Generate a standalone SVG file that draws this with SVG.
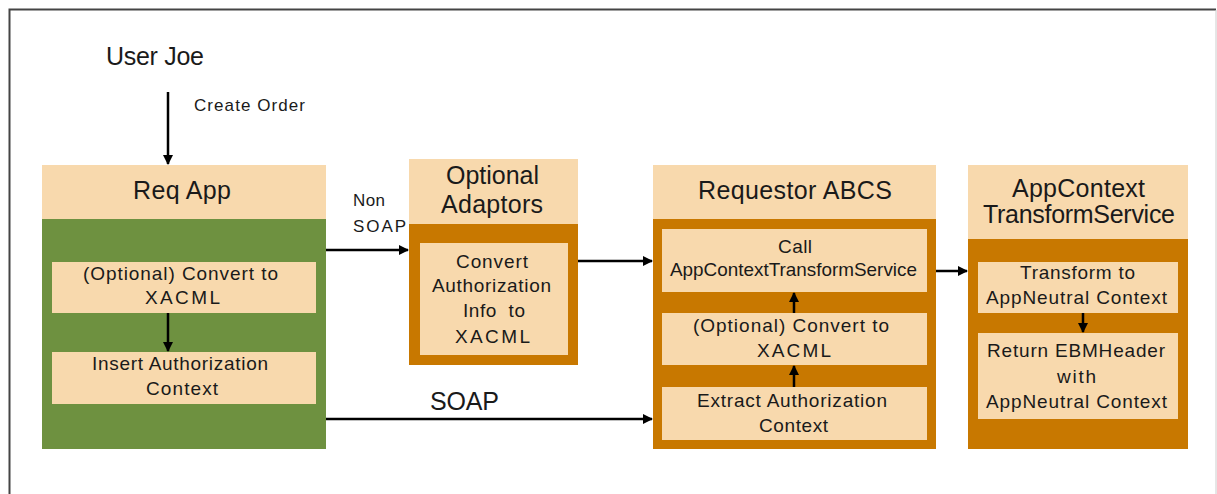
<svg xmlns="http://www.w3.org/2000/svg" width="1217" height="494" viewBox="0 0 1217 494">
<defs>
<style>
text{font-family:"Liberation Sans",Arial,sans-serif;fill:#1a1a1a;}
.hd{fill:#F8D9AD;}
.green{fill:#6E9140;}
.orange{fill:#C87800;}
.inner{fill:#F8D9AD;}
.t24{font-size:25px;}
.t18{font-size:19px;}
.t17{font-size:17px;}
.conn{stroke:#000;stroke-width:2.5;fill:none;marker-end:url(#ah);}
</style>
<marker id="ah" viewBox="0 0 10 10" refX="9" refY="5" markerWidth="4" markerHeight="4" orient="auto" markerUnits="strokeWidth">
<path d="M0,0 L10,5 L0,10 z" fill="#000"/>
</marker>
</defs>
<rect x="0" y="0" width="1217" height="494" fill="#fff"/>
<path d="M9.5,494 V9.5 H1216" stroke="#444" stroke-width="2" fill="none"/>
<line x1="1216" y1="10" x2="1216" y2="494" stroke="#ccc" stroke-width="1"/>

<g id="userjoe">
<text class="t24" x="106" y="65" textLength="98">User Joe</text>
</g>

<g id="reqapp">
<rect class="hd" x="42" y="165" width="284" height="54"/>
<text class="t24" x="133" y="199" textLength="98">Req App</text>
<rect class="green" x="42" y="219" width="284" height="230"/>
<rect class="inner" x="52" y="262" width="264" height="51"/>
<text class="t18" x="83" y="280" textLength="195">(Optional) Convert to</text>
<text class="t18" x="145" y="304" textLength="75">XACML</text>
<rect class="inner" x="52" y="352" width="264" height="52"/>
<text class="t18" x="92" y="370" textLength="176">Insert Authorization</text>
<text class="t18" x="146" y="395" textLength="72">Context</text>
</g>

<g id="adaptors">
<rect class="hd" x="409" y="159" width="169" height="65"/>
<text class="t24" x="446" y="184" textLength="93">Optional</text>
<text class="t24" x="441" y="213" textLength="102">Adaptors</text>
<rect class="orange" x="409" y="224" width="169" height="141"/>
<rect class="inner" x="420" y="243" width="148" height="112"/>
<text class="t18" x="456" y="268" textLength="72">Convert</text>
<text class="t18" x="432" y="292" textLength="119">Authorization</text>
<text class="t18" x="463" y="317" textLength="62" xml:space="preserve">Info  to</text>
<text class="t18" x="455" y="343" textLength="75">XACML</text>
</g>

<g id="abcs">
<rect class="hd" x="653" y="165" width="283" height="54"/>
<text class="t24" x="698" y="199" textLength="194">Requestor ABCS</text>
<rect class="orange" x="653" y="219" width="283" height="230"/>
<rect class="inner" x="662" y="229" width="265" height="63"/>
<text class="t18" x="778" y="253" textLength="34">Call</text>
<text class="t18" x="670" y="276" textLength="247" lengthAdjust="spacingAndGlyphs">AppContextTransformService</text>
<rect class="inner" x="662" y="313" width="265" height="52"/>
<text class="t18" x="693" y="332" textLength="196">(Optional) Convert to</text>
<text class="t18" x="757" y="357" textLength="74">XACML</text>
<rect class="inner" x="662" y="387" width="265" height="53"/>
<text class="t18" x="697" y="407" textLength="190">Extract Authorization</text>
<text class="t18" x="759" y="432" textLength="69">Context</text>
</g>

<g id="transform">
<rect class="hd" x="968" y="165" width="220" height="74"/>
<text class="t24" x="1012" y="197" textLength="133">AppContext</text>
<text class="t24" x="983" y="223" textLength="192">TransformService</text>
<rect class="orange" x="968" y="239" width="220" height="210"/>
<rect class="inner" x="978" y="262" width="200" height="51"/>
<text class="t18" x="1020" y="279" textLength="115">Transform to</text>
<text class="t18" x="986" y="304" textLength="181">AppNeutral Context</text>
<rect class="inner" x="978" y="333" width="200" height="86"/>
<text class="t18" x="987" y="357" textLength="178">Return EBMHeader</text>
<text class="t18" x="1057" y="383" textLength="39">with</text>
<text class="t18" x="986" y="408" textLength="181">AppNeutral Context</text>
</g>

<g id="connectors">
<line class="conn" x1="168" y1="92" x2="168" y2="164"/>
<line class="conn" x1="168" y1="313" x2="168" y2="351"/>
<line class="conn" x1="326" y1="250" x2="408" y2="250"/>
<line class="conn" x1="578" y1="261" x2="652" y2="261"/>
<line class="conn" x1="326" y1="419" x2="652" y2="419"/>
<line class="conn" x1="794" y1="313" x2="794" y2="293"/>
<line class="conn" x1="794" y1="387" x2="794" y2="366"/>
<line class="conn" x1="936" y1="271" x2="967" y2="271"/>
<line class="conn" x1="1083" y1="313" x2="1083" y2="332"/>
<text class="t17" x="194" y="111" textLength="111">Create Order</text>
<text class="t17" x="353" y="206" textLength="32">Non</text>
<text class="t17" x="353" y="232" textLength="53">SOAP</text>
<text class="t24" x="430" y="410" textLength="69">SOAP</text>
</g>
</svg>
